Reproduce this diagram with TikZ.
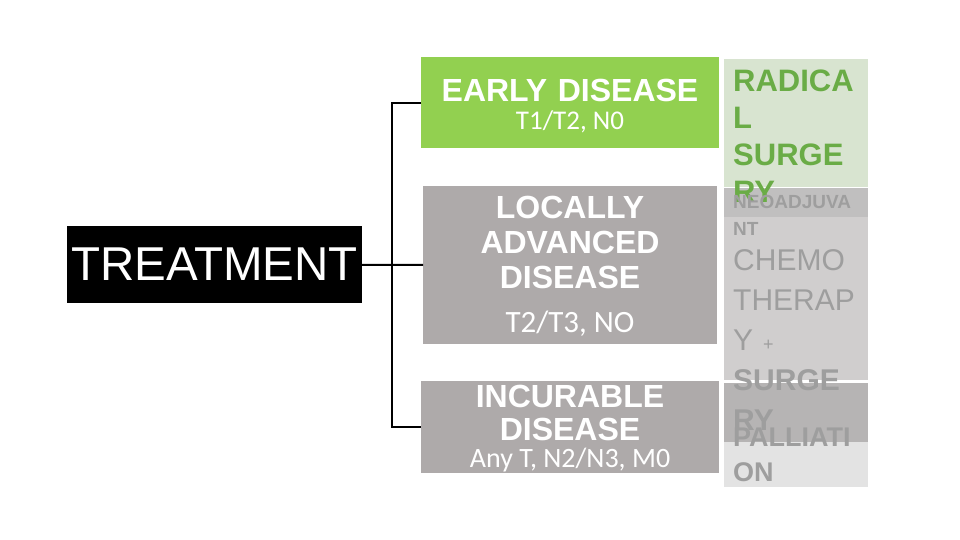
\documentclass[tikz,border=0pt]{standalone}
\usepackage{fontspec}
\setmainfont{Liberation Sans}
\newfontfamily\subfont{Carlito}

\definecolor{earlygreen}{RGB}{146,208,80}
\definecolor{stagegray}{RGB}{174,170,170}
\definecolor{palegreen}{RGB}{216,228,208}
\definecolor{bandgray}{RGB}{192,191,191}
\definecolor{bodygray}{RGB}{208,206,206}
\definecolor{banddark}{RGB}{182,180,180}
\definecolor{palest}{RGB}{227,227,227}
\definecolor{textgray}{RGB}{158,158,158}
\definecolor{textgreen}{RGB}{106,172,70}

\begin{document}
\begin{tikzpicture}[x=1pt,y=-1pt,
    cell/.style={inner sep=0pt, anchor=north west},
    title/.style={anchor=base, text=white, text width=290pt, align=center,
      font=\bfseries\fontsize{32}{35}\selectfont},
    sub/.style={anchor=base, text=white},
    colhead/.style={anchor=base west, text width=140pt, align=left, inner sep=0pt},
    link/.style={line width=2pt}]
  \useasboundingbox (0,0) rectangle (960,540);

  % root
  \node[fill=black, text=white, minimum width=295pt, minimum height=77pt,
    inner sep=0pt, font=\fontsize{47.5}{54}\selectfont] (treat) at (214.5,264.5) {TREATMENT};

  % stage boxes
  \node[cell, fill=earlygreen, minimum width=298pt, minimum height=91pt] (early) at (421,57) {};
  \node[cell, fill=stagegray, minimum width=294pt, minimum height=158pt] (local) at (423,186) {};
  \node[cell, fill=stagegray, minimum width=298pt, minimum height=92pt] (incur) at (421,381) {};

  % treatment column
  \node[cell, fill=palegreen, minimum width=144pt, minimum height=128pt] (radical) at (724,59) {};
  \node[cell, fill=bandgray, minimum width=144pt, minimum height=29pt] (neoband) at (724,188) {};
  \node[cell, fill=bodygray, minimum width=144pt, minimum height=163pt] (neobody) at (724,217) {};
  \node[cell, fill=banddark, minimum width=144pt, minimum height=59pt] (pallband) at (724,383) {};
  \node[cell, fill=palest, minimum width=144pt, minimum height=45pt] (pallbody) at (724,442) {};

  % branches
  \coordinate (trunk) at (392,265);
  \draw[link] (treat) -- (local);
  \draw[link] (early.west) -| (trunk) |- (incur.west);

  % stage labels
  \node[title] (earlytitle) at (570,102) {EARLY DISEASE};
  \node[sub, font=\subfont\fontsize{27}{30}\selectfont] (earlysub) at (570,130) {T1/T2, N0};
  \node[title] (localtitle) at (570,218) {LOCALLY\\ADVANCED\\DISEASE};
  \node[sub, font=\subfont\fontsize{31}{34}\selectfont] (localsub) at (570,332) {T2/T3, NO};
  \node[title, font=\bfseries\fontsize{32}{33}\selectfont] (incurtitle) at (570,407) {INCURABLE\\DISEASE};
  \node[sub, font=\subfont\fontsize{28}{30}\selectfont] (incursub) at (570,467) {Any T, N2/N3, M0};

  % treatment labels
  \node[colhead, text=textgreen, font=\bfseries\fontsize{31}{37}\selectfont] (radicaltext) at (733,92)
    {RADICA\\L\\SURGE\\RY};
  \node[colhead, text=textgray, font=\bfseries\fontsize{19}{27}\selectfont] (neotext) at (733,208)
    {NEOADJUVA\\NT};
  \node[colhead, text=textgray, font=\fontsize{30}{40}\selectfont] (chemotext) at (733,270)
    {CHEMO\\THERAP\\Y {\fontsize{18}{18}\selectfont +}\\\textbf{SURGE}\\\textbf{RY}};
  \node[colhead, text=textgray, font=\bfseries\fontsize{27}{35}\selectfont] (palltext) at (733,446)
    {PALLIATI\\ON};
\end{tikzpicture}
\end{document}
